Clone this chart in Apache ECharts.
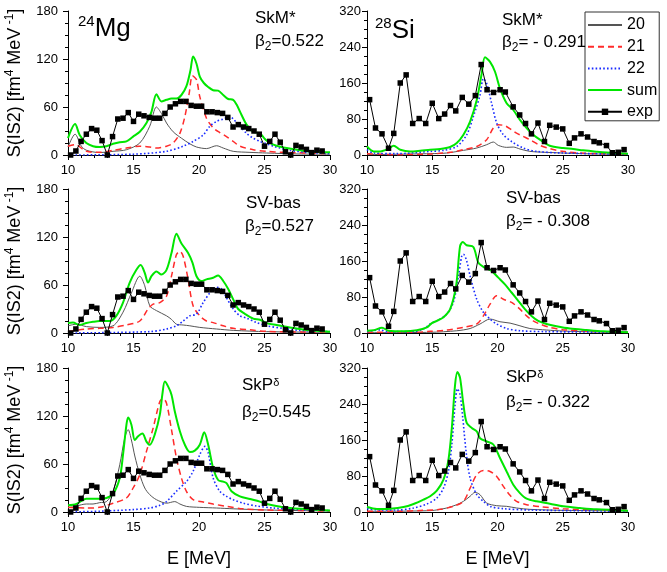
<!DOCTYPE html>
<html><head><meta charset="utf-8">
<script src="https://cdn.jsdelivr.net/npm/echarts@6/dist/echarts.min.js"></script>
<style>html,body{margin:0;padding:0;background:#fff}#c{width:667px;height:572px}</style>
</head><body><div id="c"></div>
<script>
// ---------- data ----------
const seriesNames = ['20', '21', '22', 'sum', 'exp'];
const xTicks = [10, 15, 20, 25, 30];
const mgYTicks = [0, 60, 120, 180];
const siYTicks = [0, 80, 160, 240, 320];

const mgExpE = [10.2,10.6,11.0,11.4,11.8,12.2,12.6,13.0,13.4,13.8,14.2,14.6,15.0,15.4,15.8,16.2,16.6,17.0,17.4,17.8,18.2,18.6,19.0,19.4,19.8,20.2,20.6,21.0,21.4,21.8,22.2,22.6,23.0,23.4,23.8,24.2,24.6,25.0,25.4,25.8,26.2,26.6,27.0,27.4,27.8,28.2,28.6,29.0,29.4];
const mgExpS = [0,5,17,26,33,31,18,0,23,45,46,53,42,51,49,47,46,46,52,60,64,67,67,62,61,61,54,54,53,52,47,35,38,35,33,30,26,11,17,26,16,4,0,12,10,7,3,6,5];

const siExpE = [10.2,10.65,11.15,11.65,12.05,12.55,13.0,13.5,14.0,14.5,15.0,15.5,15.95,16.4,16.8,17.3,17.8,18.3,18.75,19.2,19.7,20.2,20.6,21.2,21.7,22.15,22.6,23.1,23.6,24.0,24.5,25.0,25.5,25.9,26.4,26.9,27.4,27.8,28.35,28.8,29.25,29.7];
const siExpS = [123,60,47,15,48,160,178,70,81,70,115,81,91,110,98,128,113,132,201,145,139,145,140,107,89,70,47,71,30,66,62,58,26,38,47,40,30,27,21,5,6,12];

// 24Mg, SkM*
const mgSkm20 = [[10,10],[10.54,26],[11.02,11],[11.4,6],[12.42,3],[13.44,4.6],[14.46,6.6],[15.48,15],[16.24,36],[16.75,60],[17.13,52],[17.52,40],[18.03,29],[18.66,21],[19.3,14],[19.81,10],[20.57,8],[21.34,11.6],[21.85,8.7],[22.61,4.6],[23.89,3.3],[25.16,2.5],[27.71,1.2],[30,1]];
const mgSkm21 = [[10,11],[10.54,13],[11.4,4.6],[12.42,3.3],[13.44,5.8],[14.46,8.7],[15.48,11],[16.24,10],[16.75,8.7],[17.52,11],[18.03,15],[18.54,27],[18.92,48],[19.25,77],[19.5,99],[19.81,94],[20.06,73],[20.57,46],[21.08,34],[21.59,28],[22.1,23],[22.61,17],[23.12,11],[24.14,6.6],[25.16,4.6],[26.43,3.3],[30,1.7]];
const mgSkm22 = [[10,0],[14.97,1],[17.52,4.6],[18.79,11],[19.55,17],[20.32,25],[20.83,36],[21.34,42],[21.85,45],[22.36,48],[22.61,45],[23.12,36],[23.63,27],[24.14,21],[24.65,17],[25.16,14],[25.66,11],[26.18,8.7],[26.94,5.8],[28.22,3.3],[30,1.7]];
const mgSkmSum = [[10,21],[10.54,38.6],[10.89,25],[11.4,15],[11.91,11],[12.42,10],[12.93,11],[13.44,14],[13.95,16],[14.46,17],[14.97,23],[15.48,29],[15.99,40],[16.37,54],[16.75,76],[17.13,67],[17.52,69],[17.9,70.5],[18.28,70.5],[18.66,75],[19.04,86],[19.35,106],[19.55,123],[19.81,114],[20.06,98],[20.37,90],[20.7,85],[21.08,81],[21.46,80.5],[21.85,75],[22.23,70],[22.61,69],[22.87,63],[23.25,50],[23.63,38],[24.14,29],[24.65,27],[25.03,20],[25.41,15],[25.92,11.6],[26.69,8.7],[27.71,5.8],[28.73,4],[30,3.3]];

// 24Mg, SV-bas
const mgSvb20 = [[10,9],[10.64,11],[11.4,8],[12.42,7],[13.44,9],[14.2,26],[14.84,50],[15.48,71],[15.86,59],[16.24,34],[16.75,28],[17.52,21.5],[17.9,17],[18.28,11],[18.79,10],[19.3,9],[20.06,7],[21.34,5],[22.61,3.3],[25.16,1.7],[30,0.8]];
const mgSvb21 = [[10,1.7],[11.4,5],[12.42,5.8],[13.44,7],[14.46,10],[15.48,15],[16.11,30],[16.5,36],[17.01,38],[17.52,46],[17.9,71],[18.28,98],[18.54,102],[18.79,96],[19.17,67],[19.55,34],[20.06,21.5],[20.57,15],[21.08,13],[21.85,9],[22.61,5.8],[23.89,4],[25.16,2],[30,0.8]];
const mgSvb22 = [[10,0],[16.24,1.7],[17.52,5],[18.28,9],[18.79,15],[19.3,21.5],[19.81,23.6],[20.32,38],[20.83,50],[21.34,57],[21.72,55],[22.1,44],[22.61,30],[23.12,21.5],[23.63,18.6],[24.39,13],[25.16,9],[26.43,5.8],[27.71,3.3],[30,1.7]];
const mgSvbSum = [[10,12.4],[10.38,13],[10.89,10],[11.4,12.4],[11.91,14],[12.42,15],[13.18,15],[13.69,21.5],[14.2,38],[14.71,63],[15.22,79],[15.55,85],[15.86,75],[16.11,63],[16.37,71],[16.75,77],[17.13,73],[17.52,79],[17.9,100],[18.28,124],[18.66,112],[19.17,100],[19.5,88],[19.81,71],[20.19,65],[20.57,67],[21.08,69],[21.46,72],[21.85,65],[22.23,55],[22.61,42],[22.99,30],[23.5,24],[24.14,18],[24.65,16.5],[25.16,12.4],[25.92,10],[26.94,7],[28.22,3.7],[30,1.7]];

// 24Mg, SkP-delta
const mgSkp20 = [[10,5],[10.64,7.5],[11.4,10],[11.91,10],[12.42,11.7],[12.93,13],[13.44,26],[13.95,59],[14.33,92.5],[14.59,103],[14.84,90],[15.1,70],[15.48,46.7],[15.86,30],[16.24,21.7],[16.75,15.4],[17.52,11],[18.15,13],[18.54,10],[19.04,7],[20.06,5.8],[21.34,5],[22.61,4],[25.16,2.5],[30,1.2]];
const mgSkp21 = [[10,5.8],[11.4,5],[12.42,5.8],[13.44,11],[14.46,17.5],[14.97,30],[15.48,46.7],[15.99,75.8],[16.5,105],[17.01,138],[17.26,141.7],[17.52,136],[17.9,103],[18.28,67.5],[18.66,42.5],[19.04,25.8],[19.55,15.4],[20.32,12.5],[21.08,10],[22.1,7],[23.38,4],[25.16,2.5],[30,1.2]];
const mgSkp22 = [[10,0],[12.42,1],[14.97,3],[16.24,5],[17.01,8.3],[17.52,13],[18.28,26],[19.04,38],[19.55,51],[20.06,71.7],[20.45,82],[20.7,74],[21.08,42.5],[21.59,25.8],[22.1,19.6],[22.61,15.4],[23.38,11],[24.39,7.5],[25.66,5],[27.71,3],[30,1.7]];
const mgSkpSum = [[10,8.3],[10.64,10],[11.4,16.7],[12.42,16.7],[12.93,17.5],[13.44,22.5],[13.95,42.5],[14.2,71.7],[14.46,109],[14.59,118],[14.84,109],[15.1,90],[15.35,94.6],[15.68,98],[15.99,88],[16.24,84],[16.62,96.7],[17.01,121.7],[17.2,146.7],[17.39,163],[17.64,157],[17.9,146.7],[18.15,126],[18.54,101],[18.92,84],[19.3,75],[19.68,76.7],[20.06,84],[20.4,99.6],[20.7,84],[21.08,55],[21.46,40],[21.85,38],[22.1,36],[22.48,26],[23.12,19.6],[23.89,16.3],[24.65,13],[25.16,10],[26.43,6],[27.71,4],[30,2]];

// 28Si, SkM*
const siSkm20 = [[10,0.7],[14.84,3],[16.11,4.4],[17.39,10.3],[18.41,15.5],[19.17,22.9],[19.68,28.8],[20.06,21.4],[20.7,17],[21.21,17.7],[21.72,13.3],[22.48,8.1],[23.76,5.9],[25.03,4.4],[27.58,2.2],[30,1.5]];
const siSkm21 = [[10,3],[12.29,0.7],[14.84,2.2],[16.37,5.9],[17.39,11.8],[18.41,19],[19.17,34],[19.68,60],[20.06,67],[20.57,65],[21.08,56],[21.46,48.7],[21.97,41.3],[22.48,34],[23.25,21.4],[24.01,14],[25.03,8.1],[26.31,4.4],[30,1.5]];
const siSkm22 = [[10,11.8],[10.51,4.4],[12.29,3],[14.84,8],[15.86,10.3],[16.88,19],[17.64,45],[18.15,85.5],[18.66,133],[18.92,170],[19.17,159],[19.55,115],[19.94,71],[20.45,45],[21.08,30],[21.97,15.5],[22.99,8],[25.03,4.4],[30,1.5]];
const siSkmSum = [[10,19],[10.51,8],[11.02,8],[11.66,14],[12.04,20.6],[12.55,11.8],[13.31,8],[14.08,9.6],[14.84,11.8],[15.61,13.3],[16.37,17.7],[16.88,26.5],[17.39,45],[17.9,74],[18.41,122],[18.79,181],[19.04,217],[19.43,207],[19.81,185],[20.19,148],[20.7,115],[21.21,100],[21.72,78],[22.23,60],[22.74,45],[23.25,34],[24.01,20.6],[25.03,15.5],[25.8,13.3],[26.56,10.3],[27.58,7.4],[28.85,4.4],[30,3]];

// 28Si, SV-bas
const siSvb20 = [[10,0.7],[14.84,1.5],[16.88,5],[17.9,10],[18.66,20],[19.43,31],[20.19,25],[20.96,22],[21.72,16],[22.48,10],[23.76,6.6],[25.03,4.4],[27.58,2.2],[30,1.5]];
const siSvb21 = [[10,1.5],[13.57,1.5],[14.84,3.7],[16.11,6.6],[17.39,12.5],[18.41,20],[18.92,38],[19.43,64],[19.94,83],[20.45,75],[21.08,68],[21.72,53],[22.23,38],[22.74,27],[23.25,20],[24.01,12.5],[25.03,7.4],[27.07,3.7],[30,1.5]];
const siSvb22 = [[10,3],[11.02,7],[11.53,3],[13.57,3],[14.33,9],[14.84,20],[15.61,31],[16.11,42],[16.62,68],[17.01,127],[17.26,171],[17.39,175],[17.64,160],[17.9,127],[18.41,75],[18.92,46],[19.43,31],[19.94,20],[20.7,10],[21.72,5],[23.76,3],[30,1.5]];
const siSvbSum = [[10,5],[10.51,6],[11.15,11.8],[11.66,5],[12.8,3.7],[13.82,6],[14.59,12.5],[14.97,22],[15.35,27],[15.86,35],[16.37,53],[16.83,105],[17.13,193],[17.34,202],[17.64,195],[18.15,191],[18.54,156],[19.04,145],[19.55,138],[20.06,123],[20.57,108],[21.08,90],[21.59,71.5],[22.1,53],[22.61,38],[23.12,27],[23.76,20],[24.52,15],[25.54,10],[26.82,6.6],[28.09,3.7],[30,1.5]];

// 28Si, SkP-delta
const siSkp20 = [[10,1.5],[14.84,3],[16.11,8.9],[16.88,16.3],[17.39,23.7],[17.9,35],[18.28,43.7],[18.66,38.5],[19.17,20],[19.94,14],[20.7,12.6],[21.46,8.9],[22.48,5.9],[25.03,3.7],[30,2.2]];
const siSkp21 = [[10,1.5],[12.29,1.5],[14.33,3.7],[15.61,5.9],[16.62,12.6],[17.39,23.7],[17.9,53],[18.41,83],[18.92,92],[19.43,90],[19.94,79],[20.45,57],[20.96,37],[21.46,23.7],[22.23,16.3],[23.25,11.8],[25.03,7.4],[27.58,4.4],[30,3]];
const siSkp22 = [[10,7.4],[11.02,4.4],[12.29,4.4],[13.57,8.9],[14.59,17.8],[15.35,31],[15.86,53],[16.24,90],[16.5,150],[16.75,238.5],[16.93,274],[17.13,261],[17.34,209],[17.59,135],[17.9,75.5],[18.41,38.5],[18.92,23.7],[19.43,12.6],[20.45,7.4],[22.48,4.4],[30,1.5]];
const siSkpSum = [[10,11],[10.76,6.7],[11.78,7.4],[12.8,11],[13.57,17.8],[14.33,27.4],[14.84,35],[15.35,47.4],[15.86,72],[16.24,116],[16.5,186.7],[16.75,283],[16.93,311],[17.13,298],[17.39,238.5],[17.64,198],[18.03,186.7],[18.41,179],[18.66,164],[19.17,157],[19.68,150],[20.19,120],[20.7,90],[21.21,60.7],[21.72,42],[22.23,29.6],[22.99,23.7],[24.01,18.5],[25.03,12.6],[26.31,8.9],[27.58,5.9],[30,3]];

// ---------- layout ----------
const panels = [
  {curves:[mgSkm20, mgSkm21, mgSkm22, mgSkmSum], expE: mgExpE, expS: mgExpS, si:false},
  {curves:[siSkm20, siSkm21, siSkm22, siSkmSum], expE: siExpE, expS: siExpS, si:true},
  {curves:[mgSvb20, mgSvb21, mgSvb22, mgSvbSum], expE: mgExpE, expS: mgExpS, si:false},
  {curves:[siSvb20, siSvb21, siSvb22, siSvbSum], expE: siExpE, expS: siExpS, si:true},
  {curves:[mgSkp20, mgSkp21, mgSkp22, mgSkpSum], expE: mgExpE, expS: mgExpS, si:false},
  {curves:[siSkp20, siSkp21, siSkp22, siSkpSum], expE: siExpE, expS: siExpS, si:true}
];
const tops = [11, 189, 368];
const FONT = 'Liberation Sans, Arial, sans-serif';

const grids = [], xAxes = [], yAxes = [], series = [];
const lineStyles = [
  {color:'#555555', width:1, type:'solid'},
  {color:'#ff2b2b', width:1.5, type:[6,4]},
  {color:'#1a2cff', width:1.6, type:[1.6,2.2]},
  {color:'#00e600', width:2, type:'solid'}
];
const yName = '{a|S(IS2) [fm}{s|4}{a| MeV}{s| -1}{a|]}';

panels.forEach((p, i) => {
  const row = Math.floor(i / 2), col = i % 2;
  grids.push({left: col ? 367 : 68, width: col ? 261 : 262, top: tops[row], height: 144});
  xAxes.push({
    gridIndex: i, type: 'value', min: xTicks[0], max: xTicks[xTicks.length-1], interval: xTicks[1]-xTicks[0],
    axisLine: {show: true, onZero: false, lineStyle: {color: '#000', width: 1}},
    axisTick: {show: true, inside: false, length: 5, lineStyle: {color: '#000'}},
    minorTick: {show: true, splitNumber: 5, length: 3, lineStyle: {color: '#000'}},
    axisLabel: {color: '#000', fontSize: 13, fontFamily: FONT, margin: 9, showMinLabel: true, showMaxLabel: true},
    splitLine: {show: false},
    name: row === 2 ? 'E [MeV]' : '', nameLocation: 'middle', nameGap: 38,
    nameTextStyle: {color: '#000', fontSize: 18, fontFamily: FONT}
  });
  const yt = p.si ? siYTicks : mgYTicks;
  yAxes.push({
    gridIndex: i, type: 'value', min: 0, max: yt[yt.length-1], interval: yt[1]-yt[0],
    axisLine: {show: true, lineStyle: {color: '#000', width: 1}},
    axisTick: {show: true, inside: false, length: 5, lineStyle: {color: '#000'}},
    minorTick: {show: true, splitNumber: 4, length: 3, lineStyle: {color: '#000'}},
    axisLabel: {color: '#000', fontSize: 13, fontFamily: FONT, margin: col ? 6 : 10},
    splitLine: {show: false},
    name: col ? '' : yName, nameLocation: 'middle', nameRotate: 90, nameGap: 42,
    nameTextStyle: {color: '#000', fontFamily: FONT, rich: {
      a: {fontSize: 18, fontFamily: FONT, color: '#000', lineHeight: 22},
      s: {fontSize: 12, fontFamily: FONT, color: '#000', verticalAlign: 'top', lineHeight: 12}
    }}
  });
  p.curves.forEach((data, k) => {
    series.push({
      name: seriesNames[k], type: 'line', xAxisIndex: i, yAxisIndex: i,
      data: data, smooth: 0.3, symbol: 'none', showSymbol: false,
      lineStyle: lineStyles[k], itemStyle: {color: lineStyles[k].color}, z: 2 + k, silent: true
    });
  });
  series.push({
    name: 'exp', type: 'line', xAxisIndex: i, yAxisIndex: i,
    data: p.expE.map((e, j) => [e, p.expS[j]]),
    symbol: 'rect', symbolSize: 5.5, showSymbol: true,
    lineStyle: {color: '#000', width: 1}, itemStyle: {color: '#000'}, z: 10, silent: true
  });
});

// annotations
const ann = [];
const richBase = {
  b: {fontSize: 17, fontFamily: FONT, fill: '#000', lineHeight: 20, verticalAlign: 'top'},
  sub: {fontSize: 12, fontFamily: FONT, fill: '#000', verticalAlign: 'bottom', lineHeight: 14, padding: [9,0,0,0]},
  sup: {fontSize: 11, fontFamily: FONT, fill: '#000', verticalAlign: 'top', lineHeight: 11},
  big: {fontSize: 26, fontFamily: FONT, fill: '#000', lineHeight: 30},
  iso: {fontSize: 15, fontFamily: FONT, fill: '#000', verticalAlign: 'top', lineHeight: 15}
};
function txt(x, y, t) {
  ann.push({type: 'text', x: x, y: y, z: 100, style: {text: t, rich: richBase, fill: '#000', font: '17px ' + FONT}});
}
txt(78, 14, '{iso|24}{big|Mg}');
txt(375, 16, '{iso|28}{big|Si}');
txt(255, 10, '{b|SkM*}');
txt(255, 33, '{b|β}{sub|2}{b|=0.522}');
txt(502, 12, '{b|SkM*}');
txt(502, 34, '{b|β}{sub|2}{b|= - 0.291}');
txt(246, 195, '{b|SV-bas}');
txt(245, 218, '{b|β}{sub|2}{b|=0.527}');
txt(506, 190, '{b|SV-bas}');
txt(506, 213, '{b|β}{sub|2}{b|= - 0.308}');
txt(242, 377, '{b|SkP}{sup|δ}');
txt(242, 404, '{b|β}{sub|2}{b|=0.545}');
txt(506, 369, '{b|SkP}{sup|δ}');
txt(506, 394, '{b|β}{sub|2}{b|= - 0.322}');

const hideSym = {color: 'rgba(0,0,0,0)', borderWidth: 0, borderColor: 'rgba(0,0,0,0)'};
const chart = echarts.init(document.getElementById('c'), null, {renderer: 'canvas'});
chart.setOption({
  animation: false,
  backgroundColor: '#fff',
  grid: grids, xAxis: xAxes, yAxis: yAxes, series: series,
  graphic: ann,
  legend: {
    data: [
      {name: '20', itemStyle: hideSym},
      {name: '21', itemStyle: hideSym},
      {name: '22', itemStyle: hideSym},
      {name: 'sum', itemStyle: hideSym},
      {name: 'exp'}
    ],
    orient: 'vertical', left: 585, top: 12,
    itemWidth: 34, itemHeight: 8, itemGap: 5.7,
    padding: [5, 2, 1, 2],
    backgroundColor: '#fff', borderColor: '#333', borderWidth: 1,
    textStyle: {color: '#000', fontSize: 16, fontFamily: FONT, lineHeight: 16},
    selectedMode: false
  }
});
</script></body></html>
